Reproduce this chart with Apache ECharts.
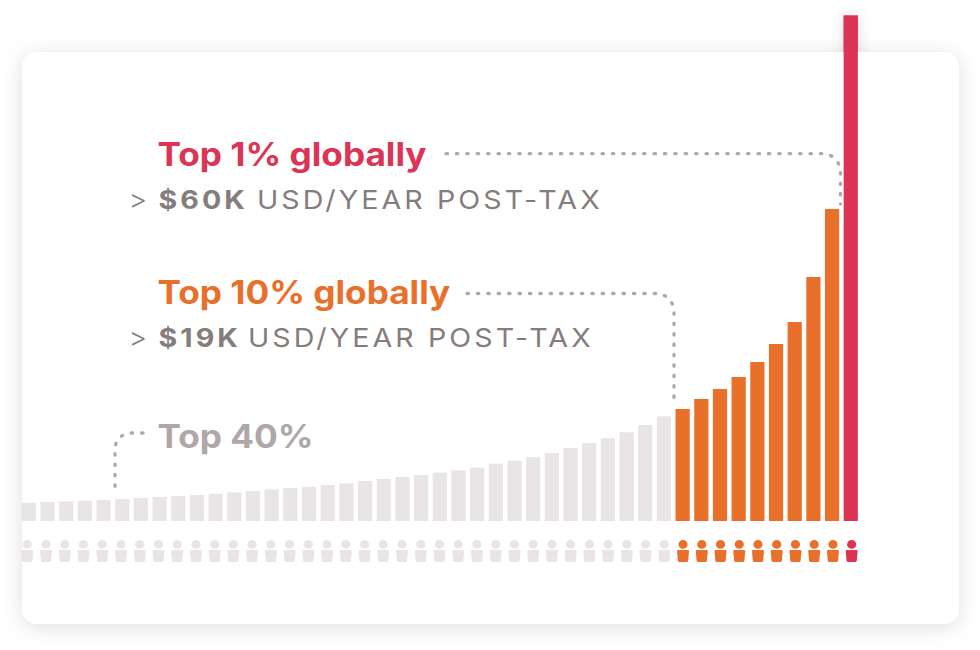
<!DOCTYPE html>
<html>
<head>
<meta charset="utf-8">
<style>
html,body{margin:0;padding:0;background:#fff}
#chart{width:980px;height:650px}
#chart text[fill="#857c7c"]{letter-spacing:2.8px}
</style>
<script src="https://cdn.jsdelivr.net/npm/echarts@6/dist/echarts.min.js"></script>
</head>
<body>
<div id="chart"></div>
<script>
// Bar heights (relative income, ascending)
const grayBars = [18.3,19,19.7,20.3,21,22,23,24,25,26,27.3,28.7,30,31.7,33,34.3,36,37.7,40,42,44,46,48.3,50.7,53.3,57.3,60.3,63.7,68,73,78,82.7,88.7,96,104.7];
const orangeBars = [112,122,132,144,159,177,199,244,312];
const redBars = [505.5];
const GRAY='#e9e4e5', ORANGE='#e9702b', RED='#dc3454', DOT='#b0a8a8', SUB='#857c7c';

const values = grayBars.concat(orangeBars, redBars);
const categories = values.map((_, i) => String(i + 1));
const colorOf = i => i < grayBars.length ? GRAY : (i < grayBars.length + orangeBars.length ? ORANGE : RED);

const personPath = 'path://M1.5 4.4A4.5 4.4 0 1 1 10.5 4.4A4.5 4.4 0 1 1 1.5 4.4ZM1.2 9.9H10.8Q12 9.9 11.9 11L11.1 20.4Q11 22 9.4 22H2.6Q1 22 .9 20.4L.1 11Q0 9.9 1.2 9.9Z';

const connectors = [
  {d:'M446 153.7H822.5A18 18 0 0 1 840.5 171.7V204', box:[446,153.7,394.5,50.3]},
  {d:'M467 293.5H656A18 18 0 0 1 674 311.5V404', box:[467,293.5,207,110.5]},
  {d:'M143 433H131A16 16 0 0 0 115 449V491', box:[115,433,28,58]}
];

function txt(x, y, s, font, color){
  return {type:'text', z:5, x, y, scaleX:1.1, silent:true,
    style:{text:s, fill:color, font, textAlign:'left', textVerticalAlign:'bottom'}};
}
const titleFont = '700 32px Inter';
const subBold = '700 26px Inter';
const subReg = '400 26px Inter';

const chart = echarts.init(document.getElementById('chart'), null, {renderer:'svg'});
chart.setOption({
  animation:false,
  backgroundColor:'#fff',
  grid:[
    {left:19.5, width:840.6, top:15.5, height:505.5},
    {left:17.93, width:843.1, top:540, height:22}
  ],
  xAxis:[
    {type:'category', gridIndex:0, data:categories, show:false},
    {type:'category', gridIndex:1, data:categories, show:false}
  ],
  yAxis:[
    {type:'value', gridIndex:0, min:0, max:505.5, show:false},
    {type:'value', gridIndex:1, min:0, max:1, show:false}
  ],
  series:[
    {type:'bar', name:'top-shadow', z:0, barWidth:14.2, barGap:'-100%',
     data:values.map((v,i)=> colorOf(i)===RED ? v : null),
     itemStyle:{color:RED, shadowBlur:14, shadowColor:'rgba(0,0,0,0.14)'}},
    {type:'bar', name:'income', z:2, barWidth:14.2, barGap:'-100%',
     data:values.map((v,i)=>({value:v, itemStyle:{color:colorOf(i)}}))},
    {type:'scatter', name:'people', xAxisIndex:1, yAxisIndex:1, z:2,
     symbol:personPath, symbolSize:[12,22],
     data:values.map((_,i)=>({value:[i,0.5], itemStyle:{color:colorOf(i), opacity:1}}))},
    {type:'custom', name:'connectors', coordinateSystem:'none', z:4, silent:true,
     data:connectors.map((_,i)=>i),
     renderItem:(p)=>{
       const c = connectors[p.dataIndex];
       return {type:'path',
         shape:{pathData:c.d, layout:'cover', x:c.box[0], y:c.box[1], width:c.box[2], height:c.box[3]},
         style:{fill:'none', stroke:DOT, lineWidth:3.3, lineCap:'round', lineDash:[1.4,9]}};
     }}
  ],
  graphic:{elements:[
    {type:'rect', z:1, silent:true, shape:{x:22,y:52,width:937,height:572,r:15},
     style:{fill:'#fff', shadowBlur:20, shadowOffsetY:3, shadowColor:'rgba(0,0,0,0.13)'}},
    txt(157.5,170,'Top 1% globally',titleFont,RED),
    txt(128.5,212.5,'>','300 26px Inter',SUB),
    txt(158.5,212.5,'$60K',subBold,SUB),
    txt(257,212.5,'USD/YEAR POST-TAX',subReg,SUB),
    txt(157.5,308,'Top 10% globally',titleFont,ORANGE),
    txt(128.5,350.5,'>','300 26px Inter',SUB),
    txt(158.5,350.5,'$19K',subBold,SUB),
    txt(248,350.5,'USD/YEAR POST-TAX',subReg,SUB),
    txt(157.5,452,'Top 40%',titleFont,DOT)
  ]}
});
</script>
</body>
</html>
